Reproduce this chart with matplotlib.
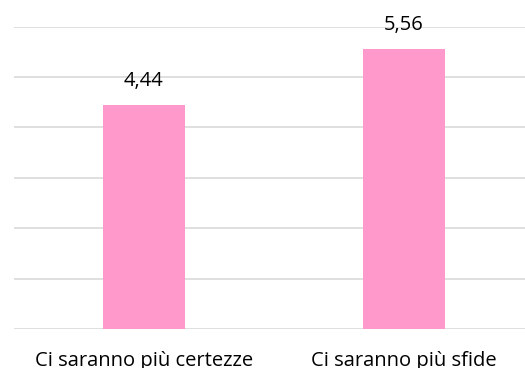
import matplotlib.pyplot as plt

categories = ["Ci saranno più certezze", "Ci saranno più sfide"]
values = [4.44, 5.56]
value_labels = ["4,44", "5,56"]

plt.rcParams['font.family'] = ['Open Sans', 'DejaVu Sans']

fig = plt.figure(figsize=(5.25, 3.68), dpi=100)
# plot area runs past the right edge, like the original export
ax = fig.add_axes([13.5 / 525, 39 / 368, 520.6 / 525, 302.3 / 368])

x = range(len(categories))
bars = ax.bar(x, values, width=0.314, color='#ff99cc', zorder=3)

for b, lab in zip(bars, value_labels):
    ax.text(b.get_x() + b.get_width() / 2, b.get_height() + 0.28, lab,
            ha='center', va='bottom', fontsize=14.5, color='#000000',
            clip_on=False)

ax.set_xlim(-0.5, 1.5)
ax.set_ylim(0, 6)
ax.set_yticks(range(0, 7))
ax.yaxis.grid(True, color='#d9d9d9', linewidth=1.2, zorder=0)
ax.tick_params(axis='y', left=False, labelleft=False)
ax.tick_params(axis='x', bottom=False, pad=12)
ax.set_xticks(list(x))
ax.set_xticklabels(categories, fontsize=14.5, color='#000000')
for s in ax.spines.values():
    s.set_visible(False)

fig.savefig('out.png', dpi=100)
